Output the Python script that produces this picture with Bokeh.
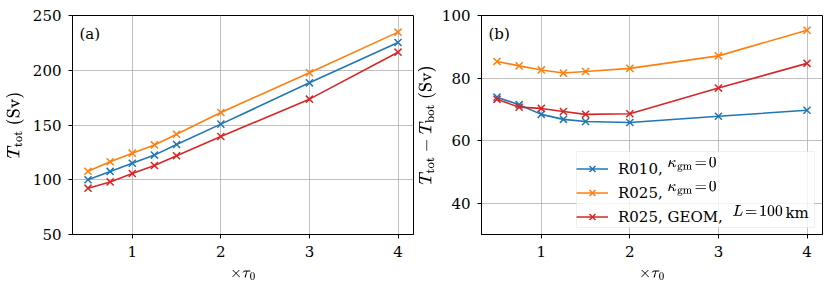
from bokeh.plotting import figure
from bokeh.layouts import row
from bokeh.models import Legend, LegendItem, Label, FixedTicker, Range1d, BoxAnnotation
from bokeh.embed import file_html
from bokeh.resources import INLINE

tau = [0.5, 0.75, 1.0, 1.25, 1.5, 2.0, 3.0, 4.0]

# panel (a): T_tot (Sv)
a_R010 = [100.0, 107.6, 115.1, 122.5, 132.2, 150.8, 188.5, 225.3]
a_R025 = [107.8, 116.4, 124.3, 131.8, 141.6, 161.4, 197.7, 234.8]
a_GEOM = [92.3, 98.0, 105.7, 113.0, 121.9, 139.5, 173.6, 216.5]

# panel (b): T_tot - T_bot (Sv)
b_R010 = [73.9, 71.5, 68.4, 66.8, 66.1, 65.8, 67.8, 69.7]
b_R025 = [85.3, 83.9, 82.6, 81.6, 82.1, 83.1, 87.1, 95.3]
b_GEOM = [73.2, 70.7, 70.3, 69.3, 68.4, 68.6, 76.8, 84.7]

x_ticks = [1, 2, 3, 4]
a_yticks = [50, 100, 150, 200, 250]
b_yticks = [40, 60, 80, 100]

legend_names = ["R010,", "R025,", "R025, GEOM,"]
legend_math = [r"$$\kappa_\mathrm{gm}\!=\!0$$", r"$$\kappa_\mathrm{gm}\!=\!0$$", r"$$L\!=\!100$$"]
legend_tail = ["", "", "km"]
colors = ["#1f77b4", "#ff7f0e", "#d62728"]

FONT = "DejaVu Serif"
FRAME_H = 219


def make_fig(width, border_left, border_right, yrange, yticks, ylabel, label_standoff):
    p = figure(width=width, height=289, output_backend="svg", toolbar_location=None,
               x_range=Range1d(0.325, 4.175), y_range=Range1d(*yrange),
               min_border_left=border_left, min_border_right=border_right,
               min_border_top=15, min_border_bottom=55)
    p.outline_line_color = "black"
    p.outline_line_width = 1
    p.outline_line_alpha = 1
    for ax in (p.xaxis[0], p.yaxis[0]):
        ax.major_label_text_font = FONT
        ax.major_label_text_font_size = "15px"
        ax.major_label_text_color = "black"
        ax.axis_line_color = "black"
        ax.major_tick_line_color = "black"
        ax.major_tick_out = 4
        ax.major_tick_in = 0
        ax.minor_tick_line_color = None
        ax.axis_label_text_font = FONT
        ax.axis_label_text_font_style = "normal"
        ax.axis_label_text_color = "black"
    p.xaxis.ticker = FixedTicker(ticks=x_ticks)
    p.yaxis.ticker = FixedTicker(ticks=yticks)
    p.xaxis.major_label_standoff = 7
    p.yaxis.major_label_standoff = 7
    p.xaxis.axis_label = r"$$\times\tau_0$$"
    p.xaxis.axis_label_text_font_size = "12px"
    p.yaxis.axis_label = ylabel
    p.yaxis.axis_label_text_font_size = "14px"
    p.xaxis.axis_label_standoff = 10
    p.yaxis.axis_label_standoff = label_standoff
    p.grid.grid_line_color = "#b0b0b0"
    p.grid.grid_line_width = 0.8
    p.background_fill_color = "white"
    p.border_fill_color = "white"
    return p


pa = make_fig(414, 72, 1, (50, 250), a_yticks, r"$$T_\mathrm{tot}$$ (Sv)", 6)
pb = make_fig(416, 67, 8, (30, 100), b_yticks, r"$$T_\mathrm{tot}-T_\mathrm{bot}$$ (Sv)", 3)

# legend background/frame (drawn behind the legend entries)
pb.add_layout(BoxAnnotation(left=95, right=333, bottom=7, top=83,
                            left_units="screen", right_units="screen",
                            bottom_units="screen", top_units="screen",
                            fill_color="white", fill_alpha=0.8,
                            line_color="#cccccc", line_width=1, level="guide"))

renderers = []
for p, series in ((pa, (a_R010, a_R025, a_GEOM)), (pb, (b_R010, b_R025, b_GEOM))):
    rs = []
    for ys, c in zip(series, colors):
        l = p.line(tau, ys, line_color=c, line_width=1.6)
        s = p.scatter(tau, ys, marker="x", size=10, line_color=c, line_width=1.5)
        rs.append((l, s))
    renderers.append(rs)

for p, t in ((pa, "(a)"), (pb, "(b)")):
    p.add_layout(Label(x=7, y=FRAME_H - 9, x_units="screen", y_units="screen", text=t,
                       text_font=FONT, text_font_size="15px", text_baseline="top",
                       text_color="black"))

items = [LegendItem(label=n, renderers=[l, s])
         for n, (l, s) in zip(legend_names, renderers[1])]
leg = Legend(items=items, location=(95, 7), label_text_font=FONT,
             label_text_font_size="15px", label_text_color="black",
             border_line_color=None, background_fill_alpha=0,
             glyph_width=32, glyph_height=21,
             label_height=21, spacing=3, margin=0, padding=4, label_standoff=10)
pb.add_layout(leg)

row_y = [70, 46, 21.5]
math_x = [186, 186, 251]
for m, y, x in zip(legend_math, row_y, math_x):
    pb.add_layout(Label(x=x, y=y, x_units="screen", y_units="screen", text=m,
                        text_font=FONT, text_font_size="13.5px", text_baseline="middle",
                        text_color="black", level="overlay"))
pb.add_layout(Label(x=304, y=row_y[2], x_units="screen", y_units="screen", text=legend_tail[2],
                    text_font=FONT, text_font_size="15px", text_baseline="middle",
                    text_color="black", level="overlay"))

layout = row(pa, pb)
open("out.html", "w").write(file_html(layout, INLINE))
